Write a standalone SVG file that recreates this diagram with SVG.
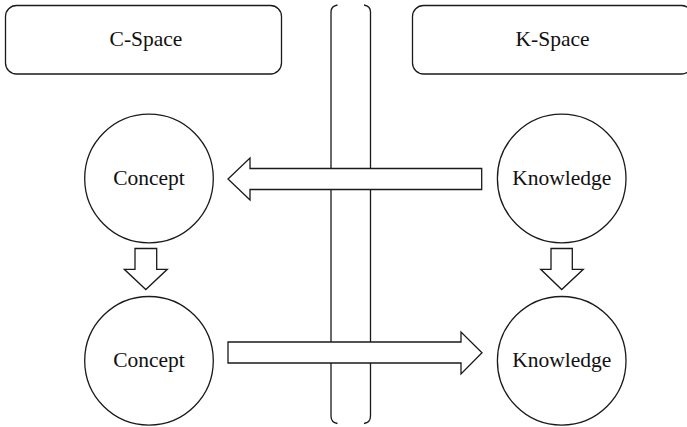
<svg xmlns="http://www.w3.org/2000/svg" width="687" height="427" viewBox="0 0 687 427">
  <style>
    .shape { fill: #ffffff; stroke: #1a1a1a; stroke-width: 1.3; }
    .line { fill: none; stroke: #1a1a1a; stroke-width: 1.3; }
    .label { font-family: "Liberation Serif", "DejaVu Serif", serif; font-size: 21.5px; fill: #111111; text-anchor: middle; }
  </style>
  <rect width="687" height="427" fill="#ffffff"/>

  <!-- space headers -->
  <g id="c-space">
    <rect class="shape" x="5.5" y="5.5" width="276" height="68.5" rx="11" ry="11"/>
    <text class="label" x="146" y="46">C-Space</text>
  </g>
  <g id="k-space">
    <rect class="shape" x="412.5" y="5.5" width="280" height="68.5" rx="11" ry="11"/>
    <text class="label" x="552.5" y="46">K-Space</text>
  </g>

  <!-- divider between the two spaces -->
  <g id="divider">
    <path class="line" d="M337.5,5 Q331,6 331,12 L331,416 Q331,422.5 337.5,423.5"/>
    <path class="line" d="M364,5 Q370.5,6 370.5,12 L370.5,416 Q370.5,422.5 364,423.5"/>
  </g>

  <!-- concept and knowledge nodes -->
  <g id="concept-top">
    <circle class="shape" cx="149" cy="178.5" r="64.3"/>
    <text class="label" x="149" y="185">Concept</text>
  </g>
  <g id="knowledge-top">
    <circle class="shape" cx="561.7" cy="178.5" r="64.3"/>
    <text class="label" x="561.7" y="185">Knowledge</text>
  </g>
  <g id="concept-bottom">
    <circle class="shape" cx="149" cy="360.8" r="64.3"/>
    <text class="label" x="149" y="367">Concept</text>
  </g>
  <g id="knowledge-bottom">
    <circle class="shape" cx="561.7" cy="360.8" r="64.3"/>
    <text class="label" x="561.7" y="367">Knowledge</text>
  </g>

  <!-- block arrows -->
  <g id="connectors">
    <polygon class="shape" points="481.7,168.5 250,168.5 250,158 228,179 250,200 250,189.5 481.7,189.5"/>
    <polygon class="shape" points="228,342 461,342 461,332 482,352.7 461,374 461,363 228,363"/>
    <polygon class="shape" points="135,248.5 156.7,248.5 156.7,269.3 167.3,269.3 145.8,289.5 124.3,269.3 135,269.3"/>
    <polygon class="shape" points="551,248.5 572.3,248.5 572.3,269.3 583.3,269.3 561.7,289.5 540.7,269.3 551,269.3"/>
  </g>
</svg>
